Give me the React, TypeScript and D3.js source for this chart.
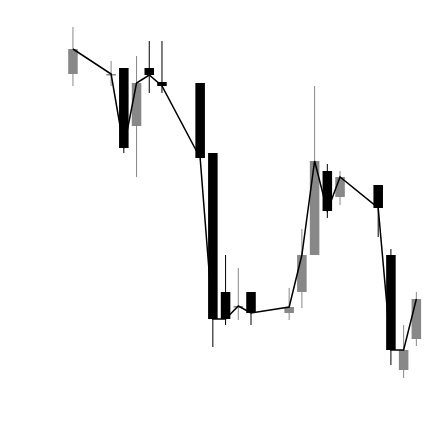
import React, { useEffect, useRef } from "react";
import * as d3 from "d3";

// Trading days (offset in days from the first session)
const dayOffsets = [0, 3, 4, 5, 6, 7, 10, 11, 12, 13, 14, 17, 18, 19, 20, 21, 24, 25, 26, 27];
const opens = [114.6, 114.6, 115.2, 109.4, 115.2, 113.8, 113.7, 106.7, 92.8, 91.4, 92.8, 90.7, 92.8, 96.5, 104.9, 102.3, 103.5, 96.5, 85.0, 88.1];
const closes = [117.1, 114.6, 107.2, 113.7, 114.5, 113.4, 106.2, 90.1, 90.1, 91.4, 90.7, 91.3, 96.5, 105.9, 100.9, 104.3, 101.2, 87.0, 87.0, 92.1];
const highs = [119.3, 115.9, 115.2, 116.4, 117.9, 117.9, 113.7, 106.7, 96.5, 95.2, 92.8, 93.2, 99.1, 113.4, 105.6, 104.9, 103.5, 97.1, 89.5, 92.8];
const lows = [113.4, 113.4, 106.7, 104.3, 112.7, 112.7, 106.2, 87.3, 89.5, 90.0, 89.5, 90.0, 91.2, 96.5, 100.2, 101.5, 98.3, 85.5, 84.2, 87.4];

const start = new Date(Date.UTC(2020, 0, 3));

const App = () => {
  const svgRef = useRef<SVGSVGElement>(null);

  useEffect(() => {
    const width = 448;
    const height = 446;
    const svg = d3.select(svgRef.current);
    svg.selectAll("*").remove();

    const data = dayOffsets.map((d, i) => ({
      date: d3.utcDay.offset(start, d),
      open: opens[i],
      close: closes[i],
      high: highs[i],
      low: lows[i],
    }));

    const days = d3.utcDay.range(start, d3.utcDay.offset(start, 28));

    const x = d3
      .scaleBand<Date>()
      .domain(days)
      .range([65, 424.3])
      .padding(0.25);

    const y = d3.scaleLinear().domain([80, 120]).range([420, 20]);

    const color = (d) => (d.close >= d.open ? "#888888" : "#000000");

    const g = svg
      .append("g")
      .selectAll("g")
      .data(data)
      .join("g")
      .attr("transform", (d) => `translate(${x(d.date) + x.bandwidth() / 2},0)`);

    g.append("line")
      .attr("y1", (d) => y(d.low))
      .attr("y2", (d) => y(d.high))
      .attr("stroke", color)
      .attr("stroke-width", 1);

    g.append("rect")
      .attr("x", -x.bandwidth() / 2)
      .attr("width", x.bandwidth())
      .attr("y", (d) => y(Math.max(d.open, d.close)))
      .attr("height", (d) => Math.max(1.5, Math.abs(y(d.open) - y(d.close))))
      .attr("fill", color);

    const line = d3
      .line<any>()
      .x((d) => x(d.date) + x.bandwidth() / 2)
      .y((d) => y(d.close));

    svg
      .append("path")
      .datum(data)
      .attr("d", line)
      .attr("fill", "none")
      .attr("stroke", "#000")
      .attr("stroke-width", 1.5);

    svg.attr("width", width).attr("height", height);
  }, []);

  return (
    <svg
      ref={svgRef}
      width={448}
      height={446}
      style={{ position: "absolute", left: 0, top: 0, background: "#fff" }}
    />
  );
};

export default App;
